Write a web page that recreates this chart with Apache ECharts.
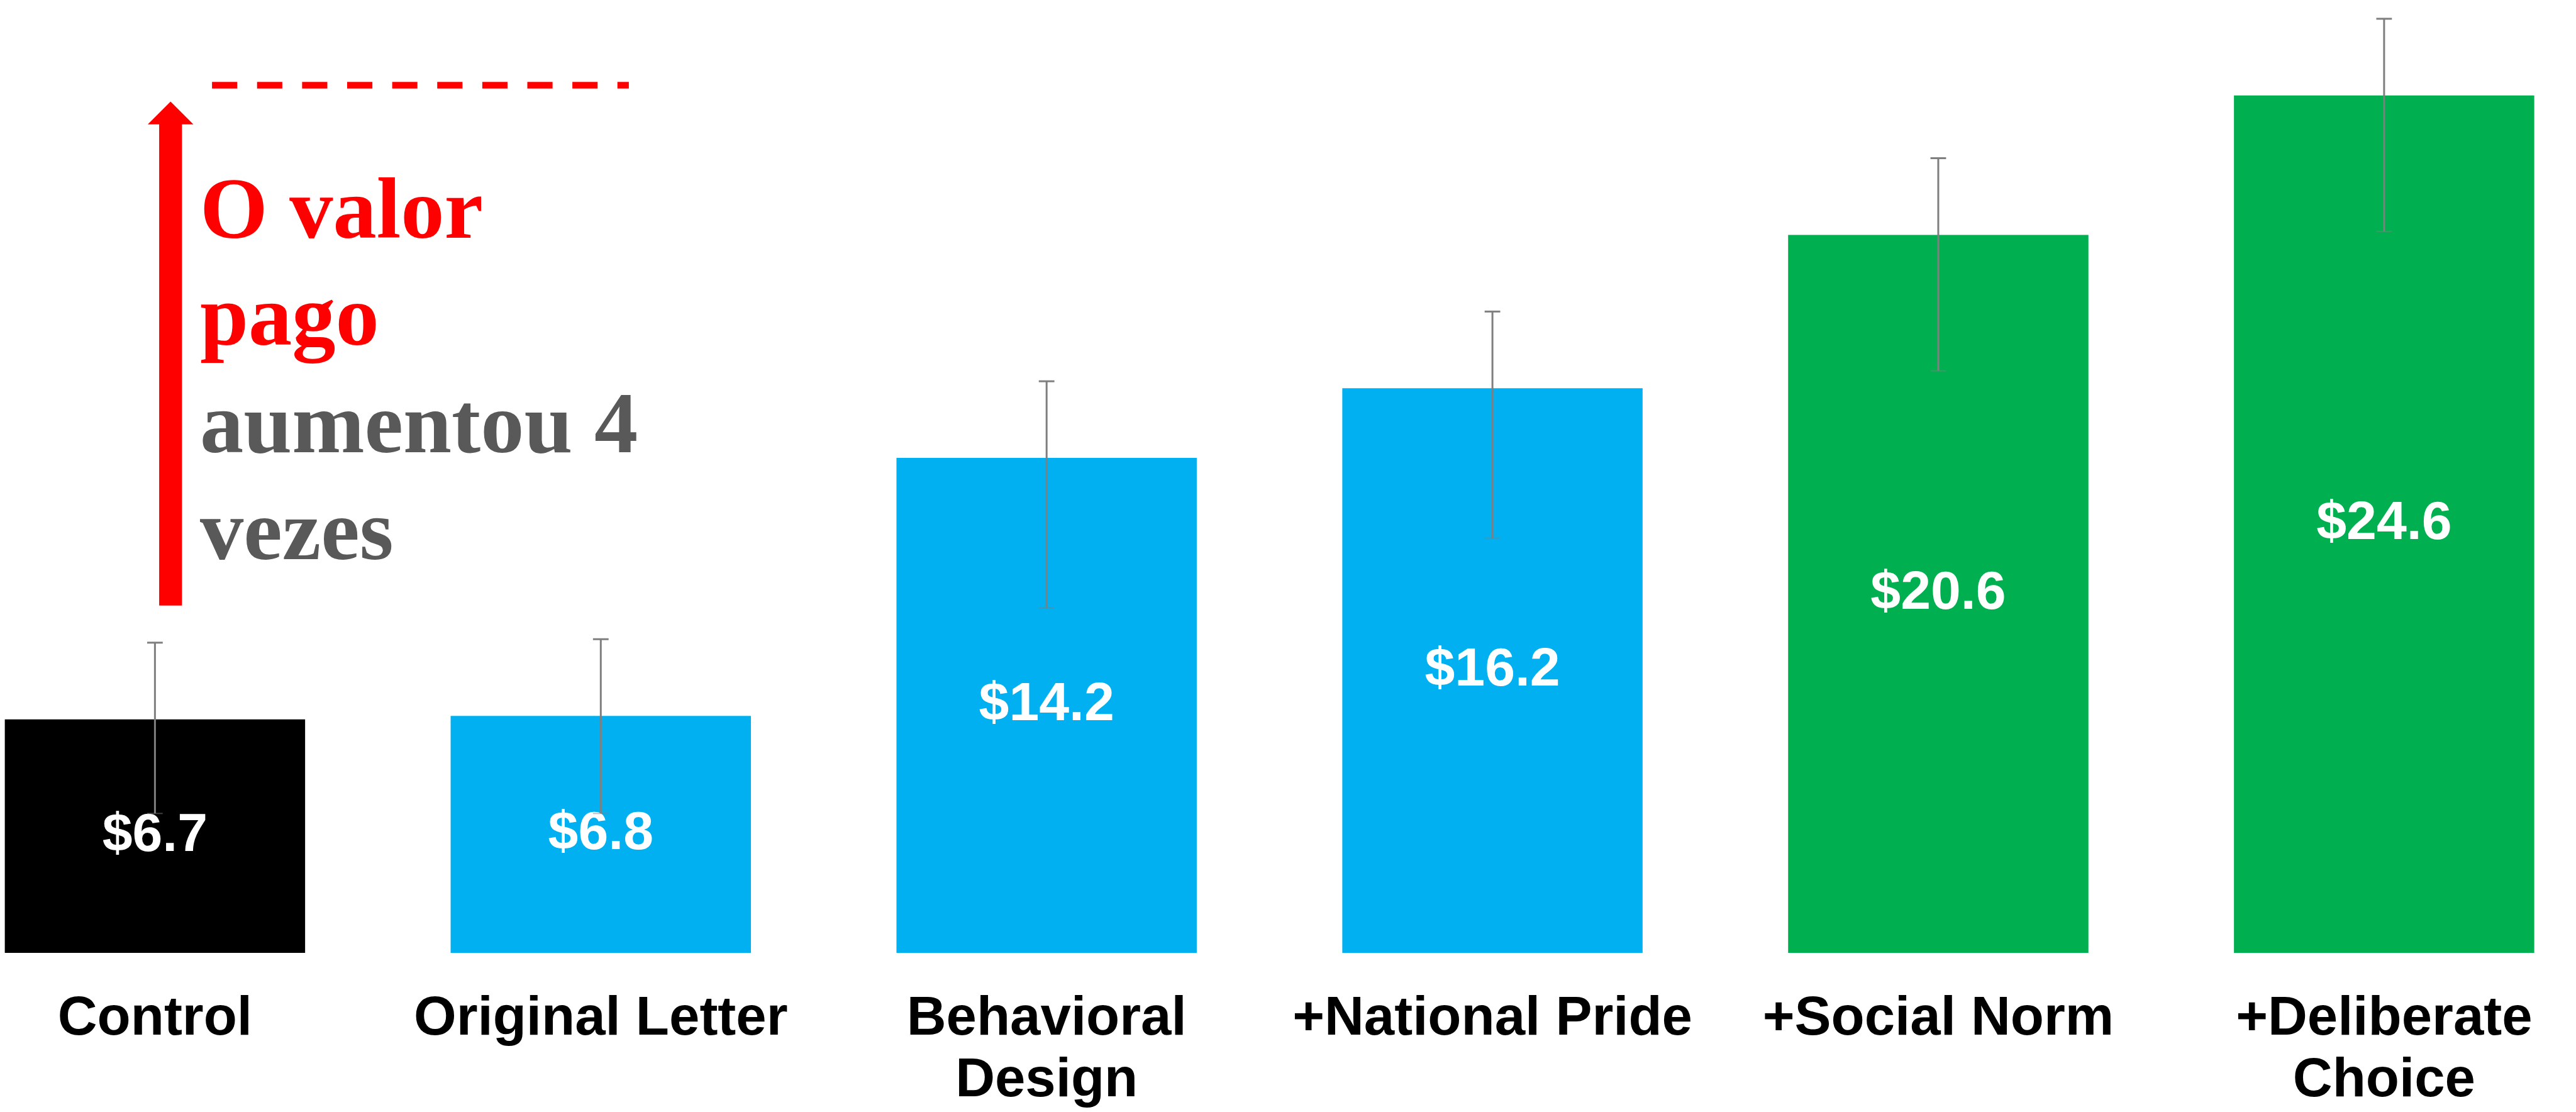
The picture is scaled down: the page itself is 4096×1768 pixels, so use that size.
<!DOCTYPE html>
<html>
<head>
<meta charset="utf-8">
<title>Valor pago por tipo de carta</title>
<script src="https://cdn.jsdelivr.net/npm/echarts@6/dist/echarts.min.js"></script>
<style>
  html, body { margin: 0; padding: 0; background: #ffffff; }
  #chart { width: 4096px; height: 1768px; }
</style>
</head>
<body>
<div id="chart"></div>
<script>
// Treatment groups and the mean amount paid in each
const categories = ['Control', 'Original Letter', 'Behavioral\nDesign', '+National Pride', '+Social Norm', '+Deliberate\nChoice'];
const values = [6.7, 6.8, 14.2, 16.2, 20.6, 24.6];
// Error bar ends (upper / lower)
const errHigh = [8.9, 9.0, 16.4, 18.4, 22.8, 26.8];
const errLow = [4.0, 4.0, 9.9, 11.9, 16.7, 20.7];
// Annotation text lines
const noteLines = ['O valor', 'pago', 'aumentou 4', 'vezes'];

// Styling
const S = 0.955;
const barColors = ['#000000', '#00B0F0', '#00B0F0', '#00B0F0', '#00B050', '#00B050'];
const noteColors = ['#FF0000', '#FF0000', '#595959', '#595959'];
const sans = '"Liberation Sans", Arial, sans-serif';
const serif = '"Liberation Serif", "Times New Roman", serif';

const chart = echarts.init(document.getElementById('chart'), null, { renderer: 'canvas' });

// Category points 742.3 apart, the first one at 258 (boundaryGap off,
// so the first and last categories sit on the grid edges)
const step = 742.3 * S;
const firstCenter = 258 * S;
const gridLeft = firstCenter;
const gridRight = 4096 - (firstCenter + step * (categories.length - 1));
const baseY = 1587 * S;
const pxPerUnit = 58.05 * S;
const yMax = 27;
const gridTop = baseY - yMax * pxPerUnit;

// Annotation: red up arrow, dashed target line, and text
const noteSize = 145 * S;
const noteBaselines = [399, 577, 756, 934].map(v => v * S);
const graphics = [
  {
    type: 'line',
    shape: { x1: 353 * S, y1: 142 * S, x2: 1047 * S, y2: 142 * S },
    style: { stroke: '#FF0000', lineWidth: 11 * S, lineDash: [42 * S, 33 * S] },
    z: 10
  },
  {
    type: 'rect',
    shape: { x: 265 * S, y: 206 * S, width: 38 * S, height: (1008 - 206) * S },
    style: { fill: '#FF0000' },
    z: 10
  },
  {
    type: 'polygon',
    shape: { points: [[246 * S, 207 * S], [322 * S, 207 * S], [284 * S, 169 * S]] },
    style: { fill: '#FF0000' },
    z: 10
  }
];
noteLines.forEach((t, i) => {
  graphics.push({
    type: 'text',
    x: 333 * S,
    // bottom of the em box sits about 0.22em below the baseline
    y: noteBaselines[i] + 0.22 * noteSize,
    style: {
      text: t,
      fill: noteColors[i],
      font: 'bold ' + noteSize + 'px ' + serif,
      textAlign: 'left',
      verticalAlign: 'bottom'
    },
    z: 10
  });
});

const option = {
  animation: false,
  backgroundColor: '#ffffff',
  grid: { left: gridLeft, right: gridRight, top: gridTop, bottom: 1768 - baseY },
  xAxis: {
    type: 'category',
    data: categories,
    boundaryGap: false,
    axisLine: { show: false },
    axisTick: { show: false },
    splitLine: { show: false },
    axisLabel: {
      interval: 0,
      margin: 57,
      color: '#000000',
      fontFamily: sans,
      fontWeight: 'bold',
      fontSize: 87,
      lineHeight: 98
    }
  },
  yAxis: {
    type: 'value',
    min: 0,
    max: yMax,
    show: false,
    splitLine: { show: false }
  },
  series: [
    {
      type: 'bar',
      barWidth: 500 * S,
      z: 2,
      data: values.map((v, i) => ({ value: v, itemStyle: { color: barColors[i] } })),
      label: {
        show: true,
        position: 'inside',
        formatter: p => '$' + Number(p.value).toFixed(1),
        color: '#ffffff',
        fontFamily: sans,
        fontWeight: 'bold',
        fontSize: 86
      }
    },
    {
      type: 'custom',
      z: 3,
      data: categories.map((c, i) => [i, errHigh[i], errLow[i]]),
      encode: { x: 0, y: [1, 2] },
      renderItem: (params, api) => {
        const i = api.value(0);
        const hi = api.coord([i, api.value(1)]);
        const lo = api.coord([i, api.value(2)]);
        const half = 13 * S;
        const st = { stroke: '#7F7F7F', lineWidth: 3 };
        return {
          type: 'group',
          children: [
            { type: 'line', shape: { x1: hi[0], y1: hi[1], x2: lo[0], y2: lo[1] }, style: st },
            { type: 'line', shape: { x1: hi[0] - half, y1: hi[1], x2: hi[0] + half, y2: hi[1] }, style: st },
            { type: 'line', shape: { x1: lo[0] - half, y1: lo[1], x2: lo[0] + half, y2: lo[1] }, style: { stroke: '#7F7F7F', lineWidth: 2, opacity: 0.5 } }
          ]
        };
      }
    }
  ],
  graphic: graphics
};

chart.setOption(option);
</script>
</body>
</html>
